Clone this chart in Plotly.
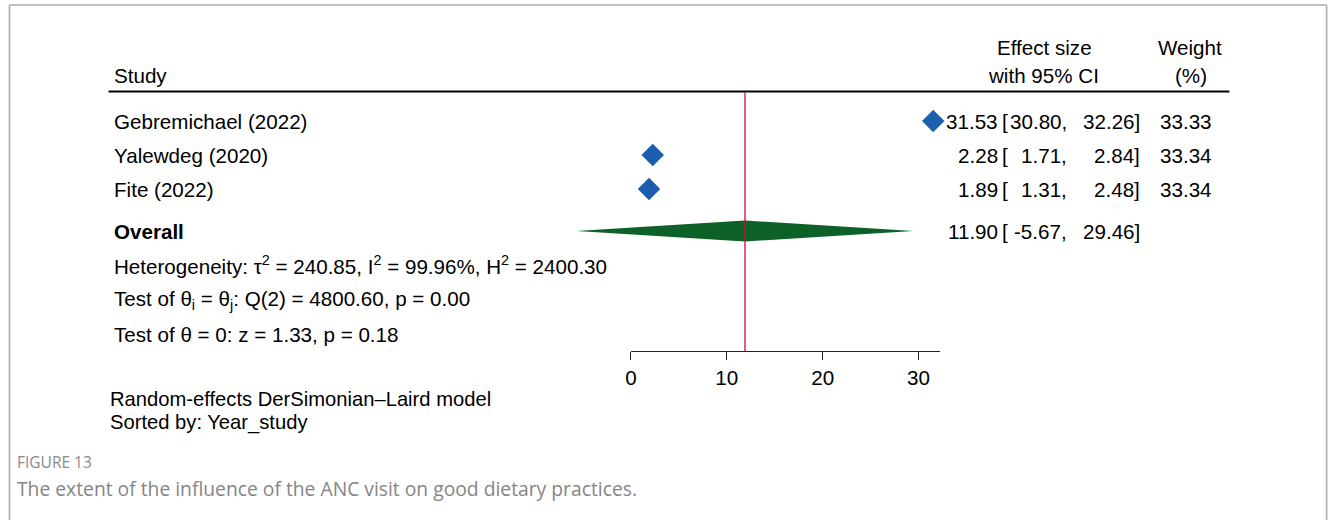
import plotly.graph_objects as go

# ---- data -------------------------------------------------------------
studies = ["Gebremichael (2022)", "Yalewdeg (2020)", "Fite (2022)"]
effect = [31.53, 2.28, 1.89]
ci_low = [30.80, 1.71, 1.31]
ci_high = [32.26, 2.84, 2.48]
weight = [33.33, 33.34, 33.34]

overall_label = "Overall"
overall_effect = 11.90
overall_low = -5.67
overall_high = 29.46

stats_lines = [
    "Heterogeneity: τ<sup>2</sup> = 240.85, I<sup>2</sup> = 99.96%, H<sup>2</sup> = 2400.30",
    "Test of θ<sub>i</sub> = θ<sub>j</sub>: Q(2) = 4800.60, p = 0.00",
    "Test of θ = 0: z = 1.33, p = 0.18",
]
notes = ["Random-effects DerSimonian–Laird model", "Sorted by: Year_study"]
x_ticks = [0, 10, 20, 30]
fig_label = "FIGURE 13"
caption = "The extent of the influence of the ANC visit on good dietary practices."

# ---- layout constants (pixels) ---------------------------------------
W, H = 1328, 520
ZERO_PX = 627.7          # where effect size 0 sits
PPU = 9.633              # pixels per effect-size unit
STUDY_Y = [121, 155, 189]
OVERALL_Y = 231
STATS_Y = [265, 300, 334]
AXIS_Y = 351
HEADER_RULE_Y = 91.5
NOTES_Y = [399, 422]

FONT = "Liberation Sans, Arial, Helvetica, sans-serif"
FS = 20.6
BLUE = "#1b5eab"
GREEN = "#0d6128"
RED = "#cc0c38"

axis_max = max(ci_high)


def px(x):
    return x / W


fig = go.Figure()

# study estimates (marker area follows the study weight)
fig.add_trace(go.Scatter(
    x=effect, y=STUDY_Y, mode="markers", xaxis="x", yaxis="y",
    marker=dict(symbol="diamond", size=[w * 17.3 / 33.34 for w in weight],
                color=BLUE, opacity=1, line=dict(width=0)),
    cliponaxis=False, hoverinfo="skip",
))

# pooled estimate diamond
half_h = 10.5
fig.add_trace(go.Scatter(
    x=[overall_low, overall_effect, overall_high, overall_effect, overall_low],
    y=[OVERALL_Y, OVERALL_Y - half_h, OVERALL_Y, OVERALL_Y + half_h, OVERALL_Y],
    mode="lines", fill="toself", fillcolor=GREEN, line=dict(width=0, color=GREEN),
    xaxis="x", yaxis="y", hoverinfo="skip",
))

# carrier trace for the visible effect-size axis
fig.add_trace(go.Scatter(
    x=[overall_effect], y=[-50], mode="markers", xaxis="x2", yaxis="y",
    marker=dict(opacity=0), hoverinfo="skip",
))

shapes = [
    # frame
    dict(type="line", xref="paper", yref="y", x0=px(3), x1=px(1327), y0=5, y1=5,
         line=dict(color="#ababab", width=1.6)),
    dict(type="line", xref="paper", yref="y", x0=px(3.5), x1=px(3.5), y0=5, y1=H,
         line=dict(color="#ababab", width=1.6)),
    dict(type="line", xref="paper", yref="y", x0=px(1326.6), x1=px(1326.6), y0=5, y1=H,
         line=dict(color="#ababab", width=1.6)),
    # header rule
    dict(type="line", xref="paper", yref="y", x0=px(103), x1=px(1229),
         y0=HEADER_RULE_Y, y1=HEADER_RULE_Y, line=dict(color="black", width=2.2)),
    # line of the pooled estimate
    dict(type="line", xref="x", yref="y", x0=overall_effect, x1=overall_effect,
         y0=HEADER_RULE_Y + 1, y1=AXIS_Y, line=dict(color=RED, width=1.3)),
]

annotations = []


def ann(text, x, y, anchor="left", size=FS, color="black", family=FONT):
    annotations.append(dict(
        text=text, x=px(x), y=y, xref="paper", yref="y",
        xanchor=anchor, yanchor="middle", align=anchor, showarrow=False,
        font=dict(family=family, size=size, color=color),
        borderpad=0, borderwidth=0,
    ))


# column headers
ann("Study", 108, 75)
ann("Effect size", 1043, 47, "center")
ann("with 95% CI", 1042, 75, "center")
ann("Weight", 1189, 47, "center")
ann("(%)", 1190, 75, "center")

# study rows
for name, e, lo, hi, w, y in zip(studies, effect, ci_low, ci_high, weight, STUDY_Y):
    ann(name, 108, y)
    ann(f"{e:.2f}", 997, y, "right")
    ann("[", 1000.5, y)
    ann(f"{lo:.2f},", 1066, y, "right")
    ann(f"{hi:.2f}]", 1139, y, "right")
    ann(f"{w:.2f}", 1211, y, "right")

# pooled row
ann(f"<b>{overall_label}</b>", 108, OVERALL_Y)
ann(f"{overall_effect:.2f}", 997, OVERALL_Y, "right")
ann("[", 1000.5, OVERALL_Y)
ann(f"{overall_low:.2f},", 1066, OVERALL_Y, "right")
ann(f"{overall_high:.2f}]", 1139, OVERALL_Y, "right")

for line, y in zip(stats_lines, STATS_Y):
    ann(line, 108, y)

for note, y in zip(notes, NOTES_Y):
    ann(note, 104, y, size=20.2)

ann(fig_label, 11, 462, size=15.5, color="#8a8a8a", family="Open Sans, sans-serif")
ann(caption, 11, 488, size=19.3, color="#858585", family="Open Sans, sans-serif")

fig.update_layout(
    width=W, height=H,
    margin=dict(l=0, r=0, t=0, b=0),
    paper_bgcolor="white", plot_bgcolor="rgba(0,0,0,0)",
    showlegend=False, hovermode=False,
    font=dict(family=FONT, size=FS, color="black"),
    xaxis=dict(domain=[0, 1], range=[-ZERO_PX / PPU, (W - ZERO_PX) / PPU],
               visible=False, fixedrange=True),
    xaxis2=dict(domain=[px(ZERO_PX), px(ZERO_PX + axis_max * PPU)],
                range=[0, axis_max], anchor="free", position=1 - AXIS_Y / H,
                showline=True, linecolor="#222", linewidth=1,
                tickvals=x_ticks, ticks="outside", ticklen=8, tickwidth=1,
                tickcolor="#222", tickfont=dict(family=FONT, size=FS, color="black"),
                showgrid=False, zeroline=False, fixedrange=True),
    yaxis=dict(domain=[0, 1], range=[H, 0], visible=False, fixedrange=True),
    shapes=shapes,
    annotations=annotations,
)

fig.write_html("out.html")
